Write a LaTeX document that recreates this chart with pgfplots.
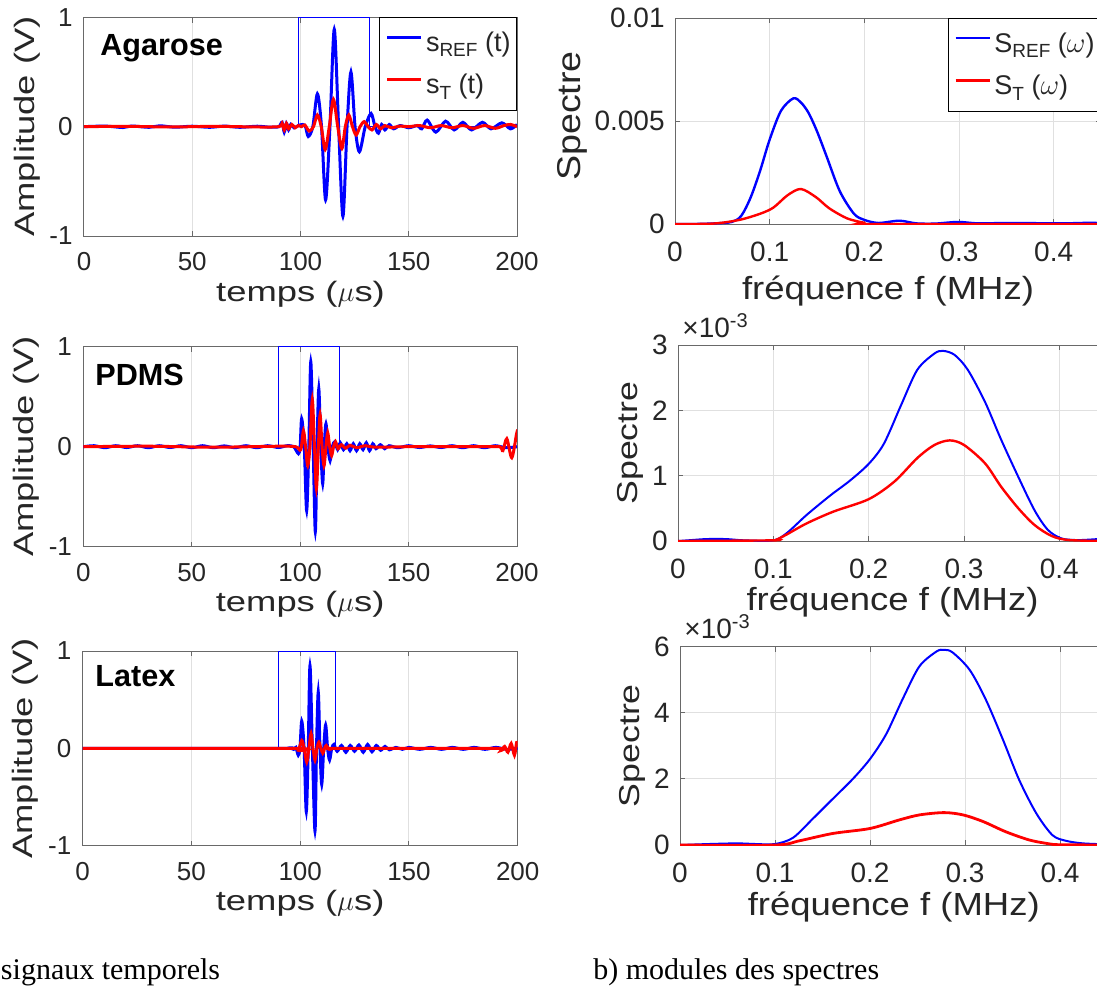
\documentclass[border=0pt]{standalone}
\usepackage{fontspec}
\setmainfont{Liberation Sans}
\newfontfamily\fA{Liberation Sans}[FakeStretch=1.3]
\newfontfamily\fB{Liberation Sans}[FakeStretch=1.14]
\newfontfamily\fC{Liberation Sans}[FakeStretch=1.24]
\newfontfamily\capfont{Liberation Serif}
\usepackage{pgfplots}
\pgfplotsset{compat=1.18}
\definecolor{axgray}{RGB}{105,105,105}
\definecolor{gridgray}{RGB}{224,224,224}
\definecolor{txtgray}{RGB}{38,38,38}
\definecolor{mblue}{RGB}{0,0,255}
\definecolor{mred}{RGB}{255,0,0}
\pgfplotsset{
  base/.style={
    scale only axis, anchor=north west,
    clip mode=individual,
    axis line style={draw=axgray, line width=0.5pt},
    tick style={draw=axgray, line width=0.5pt},
    major tick length=2.6pt, tick align=inside,
    xmajorgrids, ymajorgrids,
    major grid style={draw=gridgray, line width=0.5pt},
    scaled ticks=false,
    tick label style={text=txtgray, inner sep=0pt},
    every axis x label/.style={at={(axis description cs:0.5,0)}, anchor=center, text=txtgray},
    every axis y label/.style={at={(axis description cs:-0.13,0.5)}, anchor=center, rotate=90, text=txtgray},
  },
  leftax/.style={
    base, xmin=0, xmax=200, ymin=-1, ymax=1,
    xtick={0,50,100,150,200}, xticklabels={0,50,100,150,200},
    ytick={-1,0,1}, yticklabels={-1,0,1},
    tick label style={font=\fontsize{13}{15}\selectfont},
    yticklabel style={anchor=east, xshift=-5.5pt},
    xticklabel style={anchor=center, yshift=-13pt},
    xlabel={\fA\fontsize{14}{16}\selectfont temps ($\mu$s)},
    ylabel={\fA\fontsize{14}{16}\selectfont Amplitude (V)},
    xlabel style={yshift=-29pt},
    ylabel style={at={(axis description cs:-0.132,0.5)}},
  },
  rightax/.style={
    base, xmin=0, xmax=0.45, ymin=0,
    xtick={0,0.1,0.2,0.3,0.4}, xticklabels={0,0.1,0.2,0.3,0.4},
    tick label style={font=\fontsize{14}{16}\selectfont},
    yticklabel style={anchor=east, xshift=-5pt},
    xticklabel style={anchor=center, yshift=-13.8pt},
    xlabel={\fB\fontsize{16}{18}\selectfont fréquence f (MHz)},
  },
  myleg/.style={
    legend style={at={(1,1)}, anchor=north east, draw=black, line width=0.5pt, fill=white,
      inner xsep=3pt, inner ysep=7pt, row sep=10pt,
      font=\fontsize{13.5}{16}\selectfont, text=txtgray,
      nodes={inner sep=0pt},
      /tikz/every odd column/.append style={column sep=1.75pt}},
    legend cell align=left,
    legend image code/.code={\draw[##1] (0pt,0.3em) -- (17pt,0.3em);},
  },
}
\newcommand{\sub}[1]{\raisebox{-2.8pt}{\fontsize{9.5}{10}\selectfont #1}}
\begin{document}
\begin{tikzpicture}
\useasboundingbox (0,0) rectangle (548.5pt,-493.5pt);
\clip (0,0) rectangle (548.5pt,-493.5pt);

% ---------- Left row 1: Agarose ----------
\begin{axis}[leftax, myleg, at={(42pt,-8.65pt)}, width=216.5pt, height=109.35pt]
\addplot[mblue, line width=0.5pt, forget plot] coordinates {(0,0)(99,0)(99,1)(132,1)(132,0)(200,0)};
\addplot[mblue, line width=1.5pt, smooth] coordinates {
(0,0)(10,0.005)(18,-0.008)(22,0.006)(30,-0.006)(35,0.008)(42,-0.005)(50,0.004)(58,-0.006)(65,0.005)(72,-0.006)(80,0.004)(86,-0.005)(90,0)
(91.5,0.04)(92.5,-0.05)(93.5,0.03)(94.5,-0.03)(95.5,0.02)(97,-0.01)(99,0.01)(101,0.02)(102.3,0)(103.6,-0.09)(105.7,0)
(107.8,0.3)(109.7,0)(111.6,-0.67)(113.6,0)(115.6,0.89)(117.6,0)(119.6,-0.82)(121.5,0)(123.3,0.5)(125.2,0)(127.2,-0.23)(129.9,0)
(132.6,0.12)(134.4,0)(136,-0.06)(137.5,0.02)(139,-0.03)(141,0.02)(143,-0.02)(146,0.01)(150,-0.01)(154,0.01)(156,-0.02)
(158.5,0.06)(162.5,-0.05)(167,0.05)(171,-0.03)(175,0.04)(179,-0.03)(184,0.04)(188,-0.02)(193,0.035)(197,-0.02)(200,0.02)};
\addlegendentry{s\sub{REF} (t)}
\addplot[mred, line width=1.5pt, smooth] coordinates {
(0,0)(20,0.003)(40,-0.003)(60,0.003)(80,-0.003)(90,0)(91.5,0.03)(92.5,-0.03)(93.5,0.03)(94.5,-0.02)(96,0.02)(97.5,-0.01)(99,0.01)
(100.5,0)(102,0.015)(104,-0.04)(106,0)(107.8,0.107)(109.6,0)(111.4,-0.21)(113.3,0)(115.2,0.25)(117.2,0)(119.1,-0.2)(120.7,0)
(122.3,0.107)(124,0)(125.7,-0.076)(127.5,0)(129.4,0.046)(131.2,0)(133,-0.03)(135,0.02)(137,-0.02)(139,0.01)(142,-0.01)(146,0.005)
(150,0)(155,0.01)(160,-0.01)(165,0.01)(170,-0.01)(175,0.01)(180,-0.015)(185,0.01)(190,-0.015)(194,0.01)(197,0.02)(200,0)};
\addlegendentry{s\sub{T} (t)}
\node[anchor=base west, font=\bfseries\fontsize{15.3}{17}\selectfont] at (axis description cs:0.0215,0.8276) {Agarose};
\end{axis}

% ---------- Left row 2: PDMS ----------
\begin{axis}[leftax, at={(41.65pt,-173.35pt)}, width=216.85pt, height=100pt]
\addplot[mblue, line width=0.5pt] coordinates {(0,0)(90,0)(90,1)(118,1)(118,0)(200,0)};
\addplot[mblue, line width=1.5pt, smooth] coordinates {
(0,0)(5,0.01)(10,-0.01)(15,0.01)(20,-0.008)(25,0.01)(30,-0.01)(35,0.01)(40,-0.008)(45,0.01)(50,-0.01)(55,0.01)(60,-0.01)(65,0.008)
(70,-0.01)(75,0.01)(80,-0.01)(85,0.01)(90,-0.008)(94,0.01)(97,0)(99.2,-0.07)(100,0)(100.7,0.28)(101.9,0)(103.0,-0.64)(104.0,0)
(104.9,0.85)(106,0)(107.0,-0.85)(107.8,0)(108.6,0.58)(109.5,0)(110.4,-0.37)(111.1,0)(111.9,0.23)(112.8,0)(113.8,-0.14)(114.8,0)
(116,0.05)(117.3,-0.03)(118.5,0.04)(120,-0.03)(121.5,0.03)(123,-0.04)(124.5,0.03)(126,-0.04)(127.5,0.03)(129,-0.03)(130.5,0.04)
(132,-0.04)(133.5,0.03)(135,-0.02)(137,0.02)(139,-0.02)(141,0.01)(145,-0.01)(150,0.01)(155,-0.008)(160,0.008)(165,-0.008)(170,0.01)
(175,-0.01)(180,0.01)(185,-0.01)(190,0.01)(195,-0.01)(200,0)};
\addplot[mred, line width=1.5pt, smooth] coordinates {
(0,0)(30,0.005)(60,-0.005)(90,0.005)(98,0)(100.3,-0.03)(101.5,0.16)(102.5,0)(103.5,-0.19)(104.5,0)(105.6,0.47)(106.6,0)(107.5,-0.42)
(108.4,0)(109.2,0.32)(110.1,0)(111,-0.19)(111.9,0)(112.7,0.14)(113.6,0)(114.5,-0.09)(115.4,0)(116.3,0.05)(117.5,-0.02)(119,0.02)
(121,-0.015)(123,0.015)(126,-0.01)(130,0.01)(135,-0.005)(150,0)(185,0)(192,0)(193.5,-0.04)(195.3,0.08)(197.6,-0.11)(199.8,0.13)(200,0.13)};
\node[anchor=base west, font=\bfseries\fontsize{15.3}{17}\selectfont] at (axis description cs:0.0115,0.8085) {PDMS};
\end{axis}

% ---------- Left row 3: Latex ----------
\begin{axis}[leftax, at={(41.35pt,-325.5pt)}, width=217.5pt, height=97.35pt]
\addplot[mblue, line width=0.5pt] coordinates {(0,0)(90,0)(90,1)(116,1)(116,0)(200,0)};
\addplot[mblue, line width=1.5pt, smooth] coordinates {
(0,0)(90,0)(95,0.005)(97,-0.01)(98,0.01)(99.1,-0.07)(99.9,0)(100.7,0.28)(101.8,0)(102.8,-0.65)(103.7,0)(104.5,0.85)(105.6,0)
(106.8,-0.85)(107.5,0)(108.3,0.58)(109.1,0)(109.9,-0.37)(110.8,0)(111.7,0.24)(112.6,0)(113.5,-0.12)(114.5,0)(115.5,0.04)(117,-0.03)
(119,0.03)(121,-0.04)(123,0.03)(125,-0.03)(127,0.035)(129,-0.04)(131,0.04)(133,-0.035)(135,0.03)(137,-0.02)(139,0.02)(141,-0.015)
(144,0.01)(147,-0.01)(150,0.01)(155,-0.01)(160,0.01)(165,-0.01)(170,0.01)(175,-0.01)(180,0.01)(185,-0.01)(190,0.01)(195,-0.01)(200,0)};
\addplot[mred, line width=1.5pt, smooth] coordinates {
(0,0)(97,0)(99.1,-0.02)(100.7,0.08)(101.8,0)(103,-0.14)(104,0)(105,0.15)(105.9,0)(106.8,-0.12)(107.7,0)(108.6,0.065)(109.5,0)
(110.4,-0.05)(111.2,0)(112,0.03)(113.5,-0.01)(116,0)(150,0)(190,0)(192.5,-0.02)(194,0.02)(195.5,-0.04)(197,0.05)(198.5,-0.07)(199.5,0.06)(200,0.03)};
\node[anchor=base west, font=\bfseries\fontsize{15.3}{17}\selectfont] at (axis description cs:0.0129,0.8166) {Latex};
\end{axis}

% ---------- Right row 1 ----------
\begin{axis}[rightax, myleg, at={(337.5pt,-9pt)}, width=213pt, height=103pt,
  ymax=0.01, ytick={0,0.005,0.01}, yticklabels={0,0.005,0.01},
  ylabel={\fB\fontsize{16.5}{18}\selectfont Spectre},
  ylabel style={at={(axis description cs:-0.242,0.524)}},
  xlabel style={yshift=-33.5pt}]
\addplot[mblue, line width=1.2pt, smooth] coordinates {
(0,0)(0.02,0)(0.042,0.00003)(0.06,0.0001)(0.07,0.0004)(0.08,0.0013)(0.09,0.0026)(0.1,0.0041)(0.112,0.0055)(0.125,0.0061)
(0.133,0.0059)(0.141,0.0054)(0.15,0.0045)(0.16,0.0033)(0.174,0.0016)(0.189,0.0005)(0.2,0.0002)(0.215,0.00005)(0.237,0.00016)
(0.255,0.00003)(0.275,0.00002)(0.299,0.0001)(0.32,0.00003)(0.35,0.00005)(0.38,0.00004)(0.41,0.00003)(0.44,0.00006)(0.45,0.00003)};
\addlegendentry{S\sub{REF} ($\omega$)}
\addplot[mred, line width=1.2pt, smooth] coordinates {
(0,0)(0.04,0.00002)(0.068,0.0002)(0.09,0.0005)(0.104,0.0008)(0.119,0.0014)(0.133,0.0017)(0.149,0.0013)(0.163,0.00076)
(0.182,0.00027)(0.2,0.00006)(0.211,0)(0.45,0)};
\addlegendentry{S\sub{T} ($\omega$)}
\end{axis}

% ---------- Right row 2 ----------
\begin{axis}[rightax, at={(339pt,-172.5pt)}, width=214.5pt, height=98pt,
  ymax=3, ytick={0,1,2,3}, yticklabels={0,1,2,3},
  ylabel={\fC\fontsize{14.4}{16}\selectfont Spectre},
  ylabel style={at={(axis description cs:-0.112,0.5)}},
  xlabel style={yshift=-30.6pt}]
\addplot[mblue, line width=1pt, smooth] coordinates {
(0,0)(0.01,0.01)(0.03,0.03)(0.05,0.03)(0.07,0.01)(0.1,0.01)(0.114,0.12)(0.135,0.4)(0.16,0.7)(0.18,0.92)(0.2,1.18)(0.216,1.49)
(0.234,2.08)(0.251,2.62)(0.269,2.87)(0.278,2.91)(0.29,2.85)(0.304,2.62)(0.322,2.13)(0.339,1.55)(0.357,0.98)(0.374,0.47)
(0.388,0.17)(0.402,0.04)(0.417,0.015)(0.43,0.02)(0.45,0.04)};
\addplot[mred, line width=1.2pt, smooth] coordinates {
(0,0)(0.1,0.01)(0.104,0.025)(0.114,0.1)(0.135,0.27)(0.163,0.45)(0.2,0.64)(0.227,0.91)(0.251,1.27)(0.269,1.47)(0.285,1.54)
(0.3,1.47)(0.322,1.19)(0.339,0.83)(0.357,0.5)(0.374,0.245)(0.392,0.077)(0.41,0.015)(0.45,0)};
\node[anchor=base west, font=\fontsize{14}{16}\selectfont, text=txtgray, inner sep=0pt] at (axis description cs:0,1) [xshift=2pt, yshift=4pt] {×10\raisebox{5pt}{\fontsize{10}{11}\selectfont -3}};
\end{axis}

% ---------- Right row 3 ----------
\begin{axis}[rightax, at={(340pt,-323.25pt)}, width=213.75pt, height=99.25pt,
  ymax=6, ytick={0,2,4,6}, yticklabels={0,2,4,6},
  ylabel={\fC\fontsize{14.4}{16}\selectfont Spectre},
  ylabel style={at={(axis description cs:-0.112,0.5)}},
  xlabel style={yshift=-31pt}]
\addplot[mblue, line width=1pt, smooth] coordinates {
(0,0)(0.03,0.03)(0.06,0.05)(0.08,0.03)(0.1,0.03)(0.119,0.22)(0.14,0.8)(0.161,1.4)(0.182,2.0)(0.2,2.6)(0.217,3.35)(0.235,4.45)
(0.252,5.4)(0.27,5.85)(0.278,5.9)(0.287,5.82)(0.305,5.29)(0.322,4.39)(0.34,3.18)(0.357,1.97)(0.375,0.96)(0.392,0.3)(0.406,0.13)
(0.424,0.05)(0.45,0.02)};
\addplot[mred, line width=1.4pt, smooth] coordinates {
(0,0)(0.1,0)(0.126,0.13)(0.161,0.35)(0.2,0.5)(0.231,0.76)(0.252,0.91)(0.278,0.98)(0.298,0.91)(0.319,0.71)(0.343,0.4)(0.368,0.15)
(0.39,0.03)(0.4,0.01)(0.45,0)};
\node[anchor=base west, font=\fontsize{14}{16}\selectfont, text=txtgray, inner sep=0pt] at (axis description cs:0,1) [xshift=2pt, yshift=4pt] {×10\raisebox{5pt}{\fontsize{10}{11}\selectfont -3}};
\end{axis}

\node[anchor=base west, font=\capfont\fontsize{15}{18}\selectfont, inner sep=0pt] at (0.3pt,-489.5pt) {signaux temporels};
\node[anchor=base west, font=\capfont\fontsize{15}{18}\selectfont, inner sep=0pt] at (296.5pt,-489.5pt) {b) modules des spectres};
\end{tikzpicture}
\end{document}
